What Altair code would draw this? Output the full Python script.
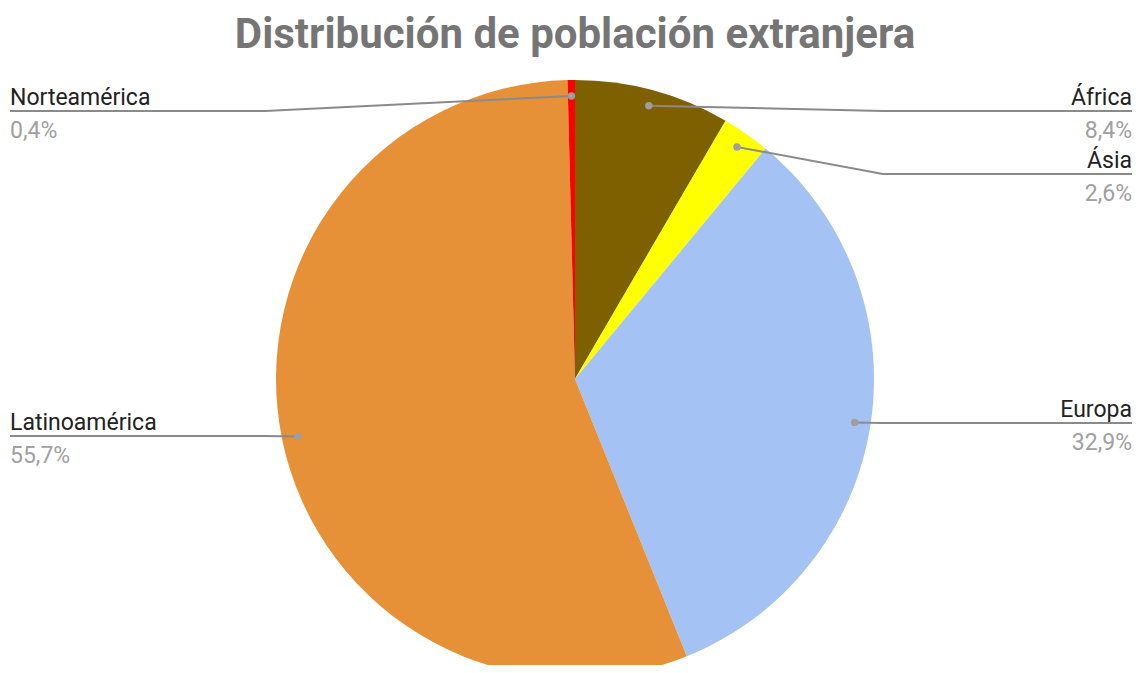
import math
import altair as alt
import pandas as pd

# ---- data ----
regions = ["África", "Ásia", "Europa", "Latinoamérica", "Norteamérica"]
shares = [8.4, 2.6, 32.9, 55.7, 0.4]
colors = ["#7f6000", "#ffff00", "#a4c2f4", "#e69138", "#ff0000"]
title_text = "Distribución de población extranjera"

# ---- layout (pixels, chart coordinates) ----
OFF = 8
W, H = 1125, 657
CX, CY = 575 - OFF, 379 - OFF
R = 299
R_DOT = 283
label_line_y = [111, 174, 423, 436, 111]  # page px, per region
ELBOW_RIGHT, ELBOW_LEFT = 883 - OFF, 265 - OFF
END_RIGHT, END_LEFT = W - 1, 10 - OFF

pct_text = [f"{v:.1f}".replace(".", ",") + "%" for v in shares]

rows, line_rows = [], []
cum = 0.0
for i, (reg, v) in enumerate(zip(regions, shares)):
    mid = (cum + v / 2) / 100 * 2 * math.pi
    cum += v
    dx = CX + R_DOT * math.sin(mid)
    dy = CY - R_DOT * math.cos(mid)
    right = math.sin(mid) >= 0
    ly = label_line_y[i] - OFF
    lx = END_RIGHT if right else END_LEFT
    ex = ELBOW_RIGHT if right else ELBOW_LEFT
    rows.append(dict(region=reg, share=v, idx=i, pct=pct_text[i],
                     dot_x=dx, dot_y=dy, label_x=lx, line_y=ly,
                     side="right" if right else "left"))
    for k, (px, py) in enumerate([(dx, dy), (ex, ly), (lx, ly)]):
        line_rows.append(dict(region=reg, k=k, px=px, py=py))

df = pd.DataFrame(rows)
ldf = pd.DataFrame(line_rows)

xs = alt.Scale(domain=[0, W], nice=False, zero=False)
ys = alt.Scale(domain=[0, H], nice=False, zero=False, reverse=True)

pie = alt.Chart(df).mark_arc(outerRadius=R, strokeWidth=0).encode(
    theta=alt.Theta("share:Q", stack=True),
    color=alt.Color("region:N", scale=alt.Scale(domain=regions, range=colors), legend=None),
    order=alt.Order("idx:Q"),
    x=alt.value(CX),
    y=alt.value(CY),
)

lines = alt.Chart(ldf).mark_line(color="#8a8a8a", strokeWidth=2).encode(
    x=alt.X("px:Q", scale=xs, axis=None),
    y=alt.Y("py:Q", scale=ys, axis=None),
    detail="region:N",
    order="k:Q",
)

dots = alt.Chart(df).mark_circle(color="#9e9e9e", size=55, opacity=1).encode(
    x=alt.X("dot_x:Q", scale=xs, axis=None),
    y=alt.Y("dot_y:Q", scale=ys, axis=None),
)

def labels(side, align):
    base = alt.Chart(df).transform_filter(alt.datum.side == side)
    names = base.mark_text(align=align, baseline="alphabetic", dy=-6,
                           font="Roboto", fontSize=23, color="#222222").encode(
        x=alt.X("label_x:Q", scale=xs, axis=None),
        y=alt.Y("line_y:Q", scale=ys, axis=None),
        text="region:N",
    )
    vals = base.mark_text(align=align, baseline="alphabetic", dy=27,
                          font="Roboto", fontSize=23, color="#a0a0a0").encode(
        x=alt.X("label_x:Q", scale=xs, axis=None),
        y=alt.Y("line_y:Q", scale=ys, axis=None),
        text="pct:N",
    )
    return names + vals

title = alt.Chart(pd.DataFrame({"t": [title_text]})).mark_text(
    align="center", baseline="alphabetic", font="Roboto", fontSize=42,
    fontWeight="bold", color="#757575",
).encode(x=alt.value(575 - OFF), y=alt.value(40), text="t:N")

chart = alt.layer(pie, lines, dots, labels("right", "right"), labels("left", "left"), title).properties(
    width=W, height=H, autosize=alt.AutoSizeParams(type="none"), padding=0
).configure_view(strokeWidth=0)

chart.save("out.html", embed_options={"renderer": "svg", "actions": False})
